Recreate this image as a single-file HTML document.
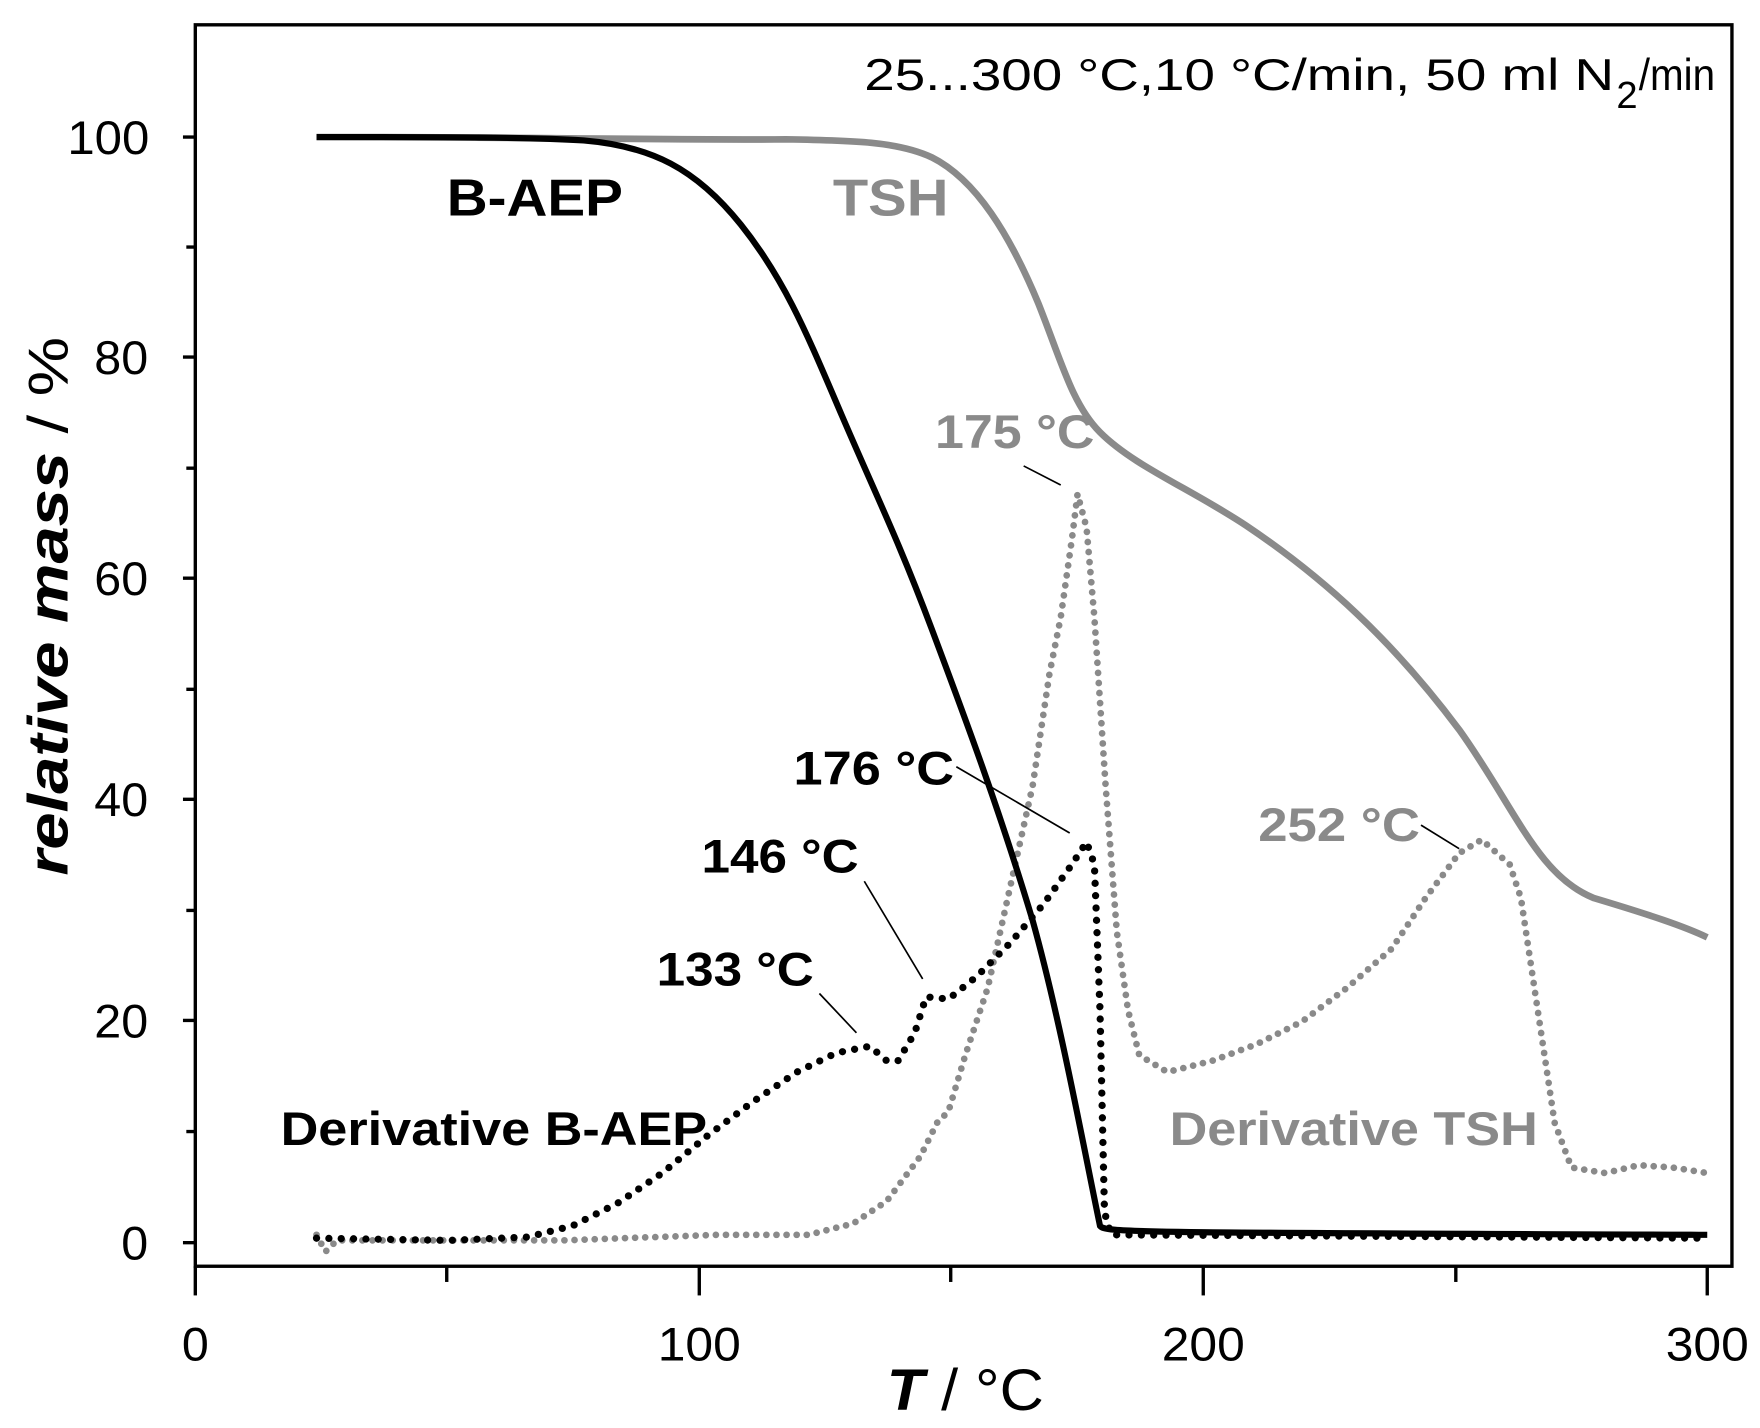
<!DOCTYPE html>
<html><head><meta charset="utf-8"><style>html,body{margin:0;padding:0;background:#fff}svg{display:block}</style></head>
<body>
<svg width="1760" height="1428" viewBox="0 0 1568 1272" xmlns="http://www.w3.org/2000/svg" font-family="Liberation Sans, Arial, sans-serif">
<rect width="1568" height="1272" fill="#fff"/>
<rect x="174" y="22" width="1369" height="1106" fill="none" stroke="#000" stroke-width="3"/>
<g stroke="#000" stroke-width="3">
<line x1="163" y1="122" x2="174" y2="122"/><line x1="163" y1="318" x2="174" y2="318"/><line x1="163" y1="515" x2="174" y2="515"/><line x1="163" y1="712" x2="174" y2="712"/><line x1="163" y1="909" x2="174" y2="909"/><line x1="163" y1="1107" x2="174" y2="1107"/>
<line x1="166" y1="220" x2="174" y2="220"/><line x1="166" y1="417" x2="174" y2="417"/><line x1="166" y1="614" x2="174" y2="614"/><line x1="166" y1="811" x2="174" y2="811"/><line x1="166" y1="1008" x2="174" y2="1008"/>
<line x1="174" y1="1128" x2="174" y2="1154"/><line x1="623" y1="1128" x2="623" y2="1154"/><line x1="1072" y1="1128" x2="1072" y2="1154"/><line x1="1521" y1="1128" x2="1521" y2="1154"/>
<line x1="398" y1="1128" x2="398" y2="1142"/><line x1="847" y1="1128" x2="847" y2="1142"/><line x1="1297" y1="1128" x2="1297" y2="1142"/>
</g>
<g font-size="42" fill="#000">
<text x="60" y="137" textLength="73" lengthAdjust="spacingAndGlyphs">100</text>
<text x="84" y="333" textLength="48" lengthAdjust="spacingAndGlyphs">80</text>
<text x="84" y="530" textLength="48" lengthAdjust="spacingAndGlyphs">60</text>
<text x="84" y="727" textLength="48" lengthAdjust="spacingAndGlyphs">40</text>
<text x="84" y="924" textLength="48" lengthAdjust="spacingAndGlyphs">20</text>
<text x="108" y="1122" textLength="24" lengthAdjust="spacingAndGlyphs">0</text>
</g>
<g font-size="42" fill="#000">
<text x="162" y="1212" textLength="24" lengthAdjust="spacingAndGlyphs">0</text>
<text x="586" y="1212" textLength="74" lengthAdjust="spacingAndGlyphs">100</text>
<text x="1035" y="1212" textLength="74" lengthAdjust="spacingAndGlyphs">200</text>
<text x="1484" y="1212" textLength="74" lengthAdjust="spacingAndGlyphs">300</text>
</g>
<text x="790" y="1256" font-size="52" textLength="140" lengthAdjust="spacingAndGlyphs"><tspan font-weight="bold" font-style="italic">T</tspan> / °C</text>
<text transform="translate(60,780) rotate(-90)" font-size="50" textLength="480" lengthAdjust="spacingAndGlyphs"><tspan font-weight="bold" font-style="italic">relative mass</tspan> / %</text>
<text x="770" y="80" font-size="40" textLength="668" lengthAdjust="spacingAndGlyphs">25...300 °C,10 °C/min, 50 ml N</text>
<text x="1440" y="96" font-size="34">2</text>
<text x="1460" y="80" font-size="40" textLength="68" lengthAdjust="spacingAndGlyphs">/min</text>
<path d="M282,1100 L290,1115 L300,1105 L500,1105 L640,1100 L720,1100 L760,1090 L790,1070 L820,1030 L835,1000 L845,990 L860,940 L880,880 L900,790 L920,700 L935,600 L945,550 L955,480 L960,440 L968,470 L975,550 L985,700 L995,830 L1005,900 L1015,940 L1040,955 L1080,945 L1120,930 L1160,910 L1200,880 L1240,845 L1270,800 L1300,760 L1320,748 L1345,770 L1355,800 L1370,900 L1385,1000 L1400,1040 L1430,1045 L1460,1038 L1490,1040 L1521,1045" fill="none" stroke="#8a8a8a" stroke-width="6" stroke-linecap="round" stroke-dasharray="0 9"/>
<path d="M282,1103 L400,1105 L470,1102 L510,1092 L550,1072 L590,1045 L630,1012 L670,982 L710,955 L745,938 L775,932 L790,945 L800,945 L815,920 L825,888 L845,890 L870,870 L900,840 L930,805 L955,770 L968,750 L975,770 L980,900 L984,1080 L990,1100 L1521,1103" fill="none" stroke="#000" stroke-width="6.5" stroke-linecap="round" stroke-dasharray="0 11"/>
<path d="M282,122 C500,122 600,125 700,124 C760,125 800,126 830,140 C870,160 900,210 925,270 C945,320 955,360 980,385 C1010,415 1060,435 1110,468 C1180,515 1240,570 1300,650 C1350,720 1370,780 1420,800 C1470,815 1500,825 1521,835" fill="none" stroke="#8a8a8a" stroke-width="6"/>
<path d="M282,122 C400,122 470,122 520,125 C580,130 620,150 660,200 C700,250 720,300 750,370 C780,440 800,480 830,560 C860,640 890,720 920,820 C945,910 965,1020 980,1092 C985,1098 1000,1098 1521,1100" fill="none" stroke="#000" stroke-width="5.5"/>
<text x="398" y="192" font-size="46" font-weight="bold" fill="#000" textLength="157" lengthAdjust="spacingAndGlyphs">B-AEP</text>
<text x="742" y="192" font-size="46" font-weight="bold" fill="#8a8a8a" textLength="103" lengthAdjust="spacingAndGlyphs">TSH</text>
<text x="833" y="399" font-size="42" font-weight="bold" fill="#8a8a8a" textLength="142" lengthAdjust="spacingAndGlyphs">175 °C</text>
<text x="707" y="699" font-size="42" font-weight="bold" fill="#000" textLength="143" lengthAdjust="spacingAndGlyphs">176 °C</text>
<text x="625" y="777" font-size="42" font-weight="bold" fill="#000" textLength="140" lengthAdjust="spacingAndGlyphs">146 °C</text>
<text x="585" y="878" font-size="42" font-weight="bold" fill="#000" textLength="140" lengthAdjust="spacingAndGlyphs">133 °C</text>
<text x="1121" y="749" font-size="42" font-weight="bold" fill="#8a8a8a" textLength="144" lengthAdjust="spacingAndGlyphs">252 °C</text>
<text x="250" y="1020" font-size="42" font-weight="bold" fill="#000" textLength="380" lengthAdjust="spacingAndGlyphs">Derivative B-AEP</text>
<text x="1042" y="1020" font-size="42" font-weight="bold" fill="#8a8a8a" textLength="328" lengthAdjust="spacingAndGlyphs">Derivative TSH</text>
<g stroke="#000" stroke-width="1.5">
<line x1="912" y1="415" x2="945" y2="432"/>
<line x1="852" y1="683" x2="953" y2="742"/>
<line x1="770" y1="785" x2="822" y2="872"/>
<line x1="730" y1="885" x2="763" y2="920"/>
<line x1="1266" y1="735" x2="1300" y2="756"/>
</g>
</svg>
</body></html>
